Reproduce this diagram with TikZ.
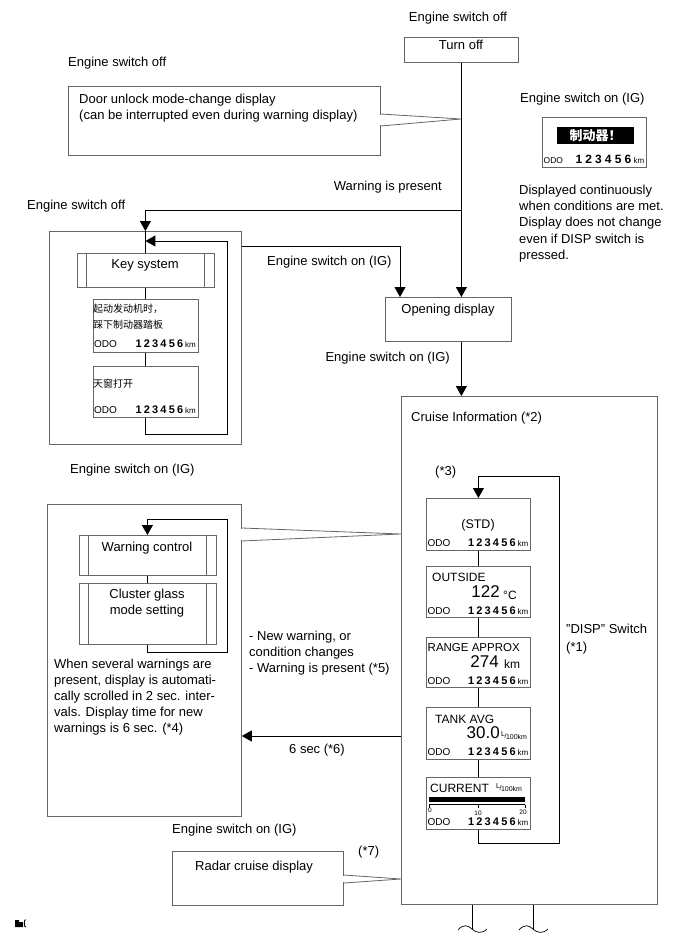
\documentclass[tikz,border=0pt]{standalone}
\usepackage{fontspec}
\setmainfont{Liberation Sans}
\newfontfamily\cjk{Noto Sans CJK SC}
\usetikzlibrary{arrows.meta}
\newcommand\fs[1]{\fontsize{#1}{#1}\selectfont}
\newcommand\sixd[1]{\makebox[#1pt][c]{1}\makebox[#1pt][c]{2}\makebox[#1pt][c]{3}\makebox[#1pt][c]{4}\makebox[#1pt][c]{5}\makebox[#1pt][c]{6}}
\newcommand\odorow[7]{%
  \node[inner sep=0pt, font=\fs{#5}, anchor=base west] (#1-o) at (#2+1.5,#4+3.8) {ODO};
  \node[inner sep=0pt, font=\bfseries\fs{#6}, anchor=base east] (#1-n) at (#3-13,#4+3.8) {\sixd{#7}};
  \node[inner sep=0pt, font=\fs{8}, anchor=base east] (#1-k) at (#3-1.5,#4+3.8) {km};}
\newcommand\lper{{\fs{7}\raisebox{2.5pt}{L}\kern-0.5pt/\kern-0.5pt\raisebox{-1pt}{100km}}}
\begin{document}
\begin{tikzpicture}[x=1pt,y=-1pt,
  box/.style={draw=black!60, line width=0.8pt, inner sep=0pt, anchor=north west},
  boxline/.style={draw=black!60, line width=0.8pt},
  conn/.style={draw=black, line width=1pt},
  arr/.style={conn, -{Triangle[width=11pt,length=10pt]}},
  lab/.style={inner sep=0pt, font=\fontsize{13}{16.3}\selectfont},
  dsp/.style={inner sep=0pt, font=\fs{12}},
  big/.style={inner sep=0pt, font=\fs{17}}]
\useasboundingbox (0,0) rectangle (691,952);

% ---------- top ----------
\node[lab, anchor=mid] (l-off1) at (458,19) {Engine switch off};
\node[box, minimum width=114pt, minimum height=25pt] (turnoff) at (404,37) {};
\node[lab, anchor=mid] (turnoff-t) at (461,47) {Turn off};

\node[lab, anchor=mid west] (l-off2) at (68,64) {Engine switch off};
\node[box, minimum width=312pt, minimum height=69pt] (door) at (68,86) {};
\fill[white] (378,114.6) rectangle (382,125.4);
\coordinate (door-tip) at (461,119);
\draw[boxline] (door.east |- 0,114) -- (door-tip) -- (door.east |- 0,126);
\node[lab, anchor=north west, align=left] (door-t) at (79,93.5) {Door unlock mode-change display\\(can be interrupted even during warning display)};

% ---------- warning display top right ----------
\node[lab, anchor=mid west] (l-on1) at (520,100) {Engine switch on (IG)};
\node[box, minimum width=104pt, minimum height=50pt] (warn) at (542,117) {};
\node[fill=black, inner sep=0pt, minimum width=77pt, minimum height=17pt, anchor=north west] (warn-blk) at (557,127) {};
\node[inner sep=0pt, text=white, font=\cjk\bfseries\fs{13}] (warn-t) at (warn-blk.center) {制动器！};
\odorow{warn}{542}{646}{160}{8.5}{12}{9.8}
\node[lab, anchor=north west, align=left] (disp-note) at (519,184.5) {Displayed continuously\\when conditions are met.\\Display does not change\\even if DISP switch is\\pressed.};

\node[lab, anchor=mid east] (l-warn) at (442,188) {Warning is present};

% ---------- key system box ----------
\node[lab, anchor=mid west] (l-off3) at (27,207) {Engine switch off};
\node[box, minimum width=192pt, minimum height=213pt] (ks) at (49,231) {};
\node[box, minimum width=137pt, minimum height=34pt] (key) at (76.5,253) {};
\draw[boxline] ([xshift=10pt]key.north west) -- ([xshift=10pt]key.south west)
               ([xshift=-10pt]key.north east) -- ([xshift=-10pt]key.south east);
\node[lab] (key-t) at (145,265) {Key system};
\node[box, minimum width=105pt, minimum height=53pt] (d1) at (92.5,299) {};
\node[anchor=north west, align=left, inner sep=0pt, font=\cjk\fontsize{10}{16}\selectfont] (d1-t) at (93,304) {起动发动机时，\\踩下制动器踏板};
\odorow{d1}{92.5}{197.5}{344}{10}{11}{8.3}
\node[box, minimum width=105pt, minimum height=51pt] (d2) at (92.5,366) {};
\node[anchor=mid west, inner sep=0pt, font=\cjk\fs{10}] (d2-t) at (93,385) {天窗打开};
\odorow{d2}{92.5}{197.5}{410}{10}{11}{8.3}

\draw[conn] (ks.north) -- (key.north);
\draw[conn] (key.south) -- (d1.north);
\draw[conn] (d1.south) -- (d2.north);
\coordinate (ksl-br) at (227,434);
\coordinate (ksl-tr) at (227,241);
\draw[arr] (d2.south) |- (ksl-br) -- (ksl-tr) -- (ks.north |- ksl-tr);

% ---------- opening display ----------
\node[box, minimum width=126pt, minimum height=44pt] (open) at (385,297) {};
\node[lab] (open-t) at (448,310) {Opening display};

\coordinate (j1) at (turnoff.south |- 0,210);
\draw[arr] (turnoff.south) -- (turnoff.south |- open.north);
\draw[arr] (j1) -| (ks.north);
\coordinate (j2) at (ks.east |- 0,246);
\draw[arr] (j2) -| ([xshift=15pt]open.north west);
\node[lab, anchor=mid west] (l-on2) at (267,263) {Engine switch on (IG)};
\node[lab, anchor=mid east] (l-on3) at (450,359) {Engine switch on (IG)};

% ---------- cruise information ----------
\node[box, minimum width=256pt, minimum height=508pt] (cruise) at (401,396) {};
\draw[arr] (turnoff.south |- open.south) -- (turnoff.south |- cruise.north);
\node[lab, anchor=mid west] (cruise-t) at (411,419) {Cruise Information (*2)};
\node[lab, anchor=mid west] (n3) at (435,473) {(*3)};

\node[box, minimum width=104pt, minimum height=52pt] (std) at (426,498) {};
\node[dsp, font=\fs{12.5}] (std-t) at (478,525) {(STD)};
\odorow{std}{426}{530}{543}{10}{11}{8.3}

\node[box, minimum width=104pt, minimum height=51pt] (outside) at (426,566) {};
\node[dsp, anchor=mid west] (outside-t) at (432,579) {OUTSIDE};
\node[big, anchor=mid east] (outside-v) at (500,595) {122};
\node[dsp, anchor=mid west] (outside-u) at (503,597) {°C};
\odorow{outside}{426}{530}{611}{10}{11}{8.3}

\node[box, minimum width=104pt, minimum height=50pt] (range) at (426,637) {};
\node[dsp, font=\fs{11.5}, anchor=mid west] (range-t) at (427.5,649) {RANGE APPROX};
\node[big, anchor=mid east] (range-v) at (499,665) {274};
\node[dsp, anchor=mid west] (range-u) at (504,666) {km};
\odorow{range}{426}{530}{681}{10}{11}{8.3}

\node[box, minimum width=104pt, minimum height=52pt] (tank) at (426,707) {};
\node[dsp, anchor=mid west] (tank-t) at (435,721) {TANK AVG};
\node[big, anchor=mid east] (tank-v) at (500,736) {30.0};
\node[inner sep=0pt, anchor=mid west] (tank-u) at (501,736) {\lper};
\odorow{tank}{426}{530}{752}{10}{11}{8.3}

\node[box, minimum width=104pt, minimum height=52pt] (current) at (426,777) {};
\node[dsp, anchor=mid west] (current-t) at (430,790) {CURRENT};
\node[inner sep=0pt, anchor=mid west] (current-u) at (496,788) {\lper};
\fill (429,797) rectangle (525,801.5);
\draw[line width=0.5pt] (429,804.5) -- (525,804.5) (429,804.5) -- (429,807.5) (478,804.5) -- (478,807.5) (525,804.5) -- (525,807.5);
\node[inner sep=0pt, font=\fs{6.5}] (sc0) at (430,810) {0};
\node[inner sep=0pt, font=\fs{6.5}] (sc10) at (478,813) {10};
\node[inner sep=0pt, font=\fs{6.5}] (sc20) at (523,812) {20};
\odorow{current}{426}{530}{822}{10}{11}{8.3}

\draw[conn] (std.south) -- (outside.north);
\draw[conn] (outside.south) -- (range.north);
\draw[conn] (range.south) -- (tank.north);
\draw[conn] (tank.south) -- (current.north);
\coordinate (cl-br) at (559,843);
\coordinate (cl-tr) at (559,476);
\draw[arr] (current.south) |- (cl-br) -- (cl-tr) -| (std.north);
\node[lab, anchor=north west, align=left, font=\fontsize{13}{18}\selectfont] (disp) at (566,623.5) {"DISP" Switch\\(*1)};

% ---------- warning control box ----------
\node[lab, anchor=mid west] (l-on4) at (70,471) {Engine switch on (IG)};
\node[box, minimum width=194pt, minimum height=312pt] (wbig) at (47,504) {};
\fill[white] (239,528.6) rectangle (243,540.4);
\coordinate (wtip) at (cruise.west |- 0,534);
\draw[boxline] (wbig.east |- 0,528) -- (wtip) -- (wbig.east |- 0,541);
\node[box, minimum width=137pt, minimum height=40pt] (wc) at (78.5,535) {};
\draw[boxline] ([xshift=10pt]wc.north west) -- ([xshift=10pt]wc.south west)
               ([xshift=-10pt]wc.north east) -- ([xshift=-10pt]wc.south east);
\node[lab] (wc-t) at (147,548) {Warning control};
\node[box, minimum width=137pt, minimum height=61pt] (cg) at (78.5,583) {};
\draw[boxline] ([xshift=10pt]cg.north west) -- ([xshift=10pt]cg.south west)
               ([xshift=-10pt]cg.north east) -- ([xshift=-10pt]cg.south east);
\node[lab, anchor=north, align=center] (cg-t) at (147,589) {Cluster glass\\mode setting};
\draw[conn] (wc.south) -- (cg.north);
\coordinate (wl-br) at (227,652);
\coordinate (wl-tr) at (227,519);
\draw[arr] (cg.south) |- (wl-br) -- (wl-tr) -| (wc.north);
\node[lab, anchor=north west, align=left, font=\fontsize{13}{16}\selectfont] (wpara) at (54,658.5) {When several warnings are\\present, display is automati-\\cally scrolled in 2 sec. inter-\\vals. Display time for new\\warnings is 6 sec. (*4)};

\node[lab, anchor=north west, align=left] (newwarn) at (249,630.5) {- New warning, or\\condition changes\\- Warning is present (*5)};
\draw[arr] (cruise.west |- 0,736) -- (wbig.east |- 0,736);
\node[lab] (six) at (317,750) {6 sec (*6)};

% ---------- radar cruise ----------
\node[lab, anchor=mid west] (l-on5) at (172,831) {Engine switch on (IG)};
\node[lab, anchor=mid west] (n7) at (358,853) {(*7)};
\node[box, minimum width=171pt, minimum height=54pt] (radar) at (172,851) {};
\fill[white] (341,875.6) rectangle (345,882.4);
\coordinate (rtip) at (cruise.west |- 0,879);
\draw[boxline] (radar.east |- 0,875) -- (rtip) -- (radar.east |- 0,883);
\node[lab, anchor=mid west] (radar-t) at (195,868) {Radar cruise display};

% ---------- continuation lines ----------
\coordinate (b1) at (472,929);
\coordinate (b2) at (533,929);
\draw[conn] (cruise.south -| b1) -- (b1);
\draw[conn] (cruise.south -| b2) -- (b2);
\draw[line width=0.7pt] (458,930) .. controls (463,924) and (468,925) .. (b1) .. controls (476,933) and (482,934) .. (487,929);
\draw[line width=0.7pt] (519,930) .. controls (524,924) and (529,925) .. (b2) .. controls (537,933) and (543,934) .. (548,929);

% ---------- small mark ----------
\fill (15,920) -- (19,920) -- (19,922) -- (23,922) -- (23,927) -- (15,927) -- cycle;
\draw[line width=0.9pt] (25.5,919.5) -- (24.5,921) -- (24.5,926) -- (26,927);
\end{tikzpicture}
\end{document}
